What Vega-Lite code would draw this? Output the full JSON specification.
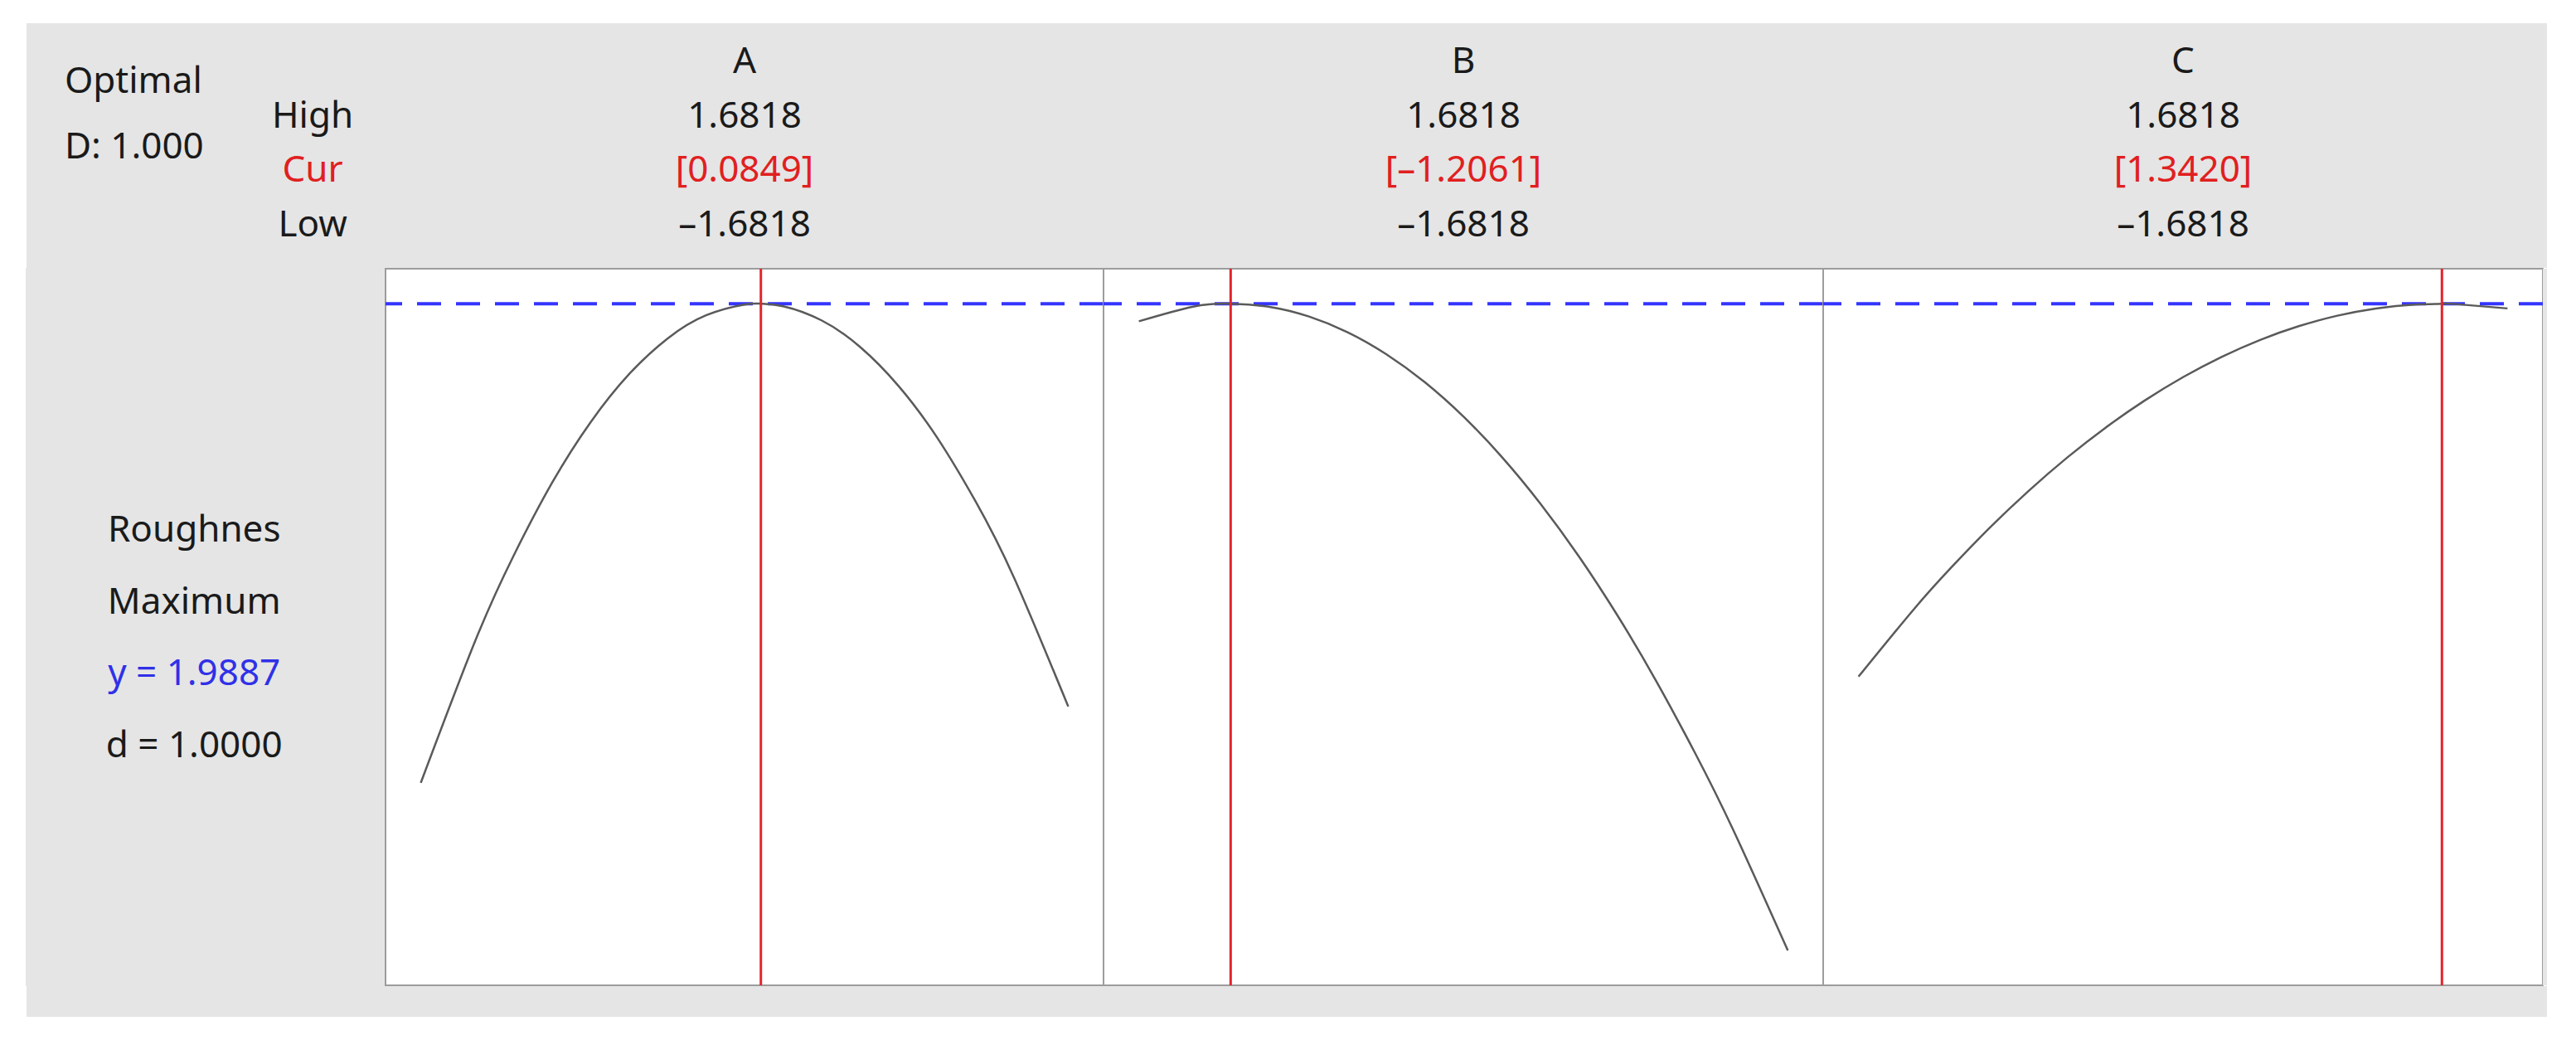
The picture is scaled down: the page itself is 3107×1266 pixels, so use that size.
{
  "$schema": "https://vega.github.io/schema/vega-lite/v6.json",
  "background": "white",
  "padding": {"left": 31, "top": 28, "right": 36, "bottom": 42},
  "autosize": {"type": "pad"},
  "spacing": 0,
  "config": {
    "view": {"stroke": null},
    "concat": {"spacing": 0},
    "text": {"font": "Noto Sans", "fontSize": 44, "baseline": "alphabetic"}
  },
  "datasets": {
    "curves": [
      {"panel": "A", "x": -1.6818, "y": 1.0126},
      {"panel": "A", "x": -1.4, "y": 1.3009},
      {"panel": "A", "x": -1.2, "y": 1.4750},
      {"panel": "A", "x": -1.0, "y": 1.6237},
      {"panel": "A", "x": -0.8, "y": 1.7471},
      {"panel": "A", "x": -0.6, "y": 1.8451},
      {"panel": "A", "x": -0.4, "y": 1.9178},
      {"panel": "A", "x": -0.2, "y": 1.9651},
      {"panel": "A", "x": 0.0, "y": 1.9870},
      {"panel": "A", "x": 0.0849, "y": 1.9887},
      {"panel": "A", "x": 0.2, "y": 1.9836},
      {"panel": "A", "x": 0.4, "y": 1.9548},
      {"panel": "A", "x": 0.6, "y": 1.9007},
      {"panel": "A", "x": 0.8, "y": 1.8212},
      {"panel": "A", "x": 1.0, "y": 1.7163},
      {"panel": "A", "x": 1.2, "y": 1.5861},
      {"panel": "A", "x": 1.4, "y": 1.4305},
      {"panel": "A", "x": 1.6818, "y": 1.1680},
      {"panel": "B", "x": -1.6818, "y": 1.9529},
      {"panel": "B", "x": -1.4, "y": 1.9828},
      {"panel": "B", "x": -1.2061, "y": 1.9887},
      {"panel": "B", "x": -1.0, "y": 1.9820},
      {"panel": "B", "x": -0.8, "y": 1.9626},
      {"panel": "B", "x": -0.6, "y": 1.9307},
      {"panel": "B", "x": -0.4, "y": 1.8860},
      {"panel": "B", "x": -0.2, "y": 1.8288},
      {"panel": "B", "x": 0.0, "y": 1.7589},
      {"panel": "B", "x": 0.2, "y": 1.6763},
      {"panel": "B", "x": 0.4, "y": 1.5811},
      {"panel": "B", "x": 0.6, "y": 1.4733},
      {"panel": "B", "x": 0.8, "y": 1.3528},
      {"panel": "B", "x": 1.0, "y": 1.2197},
      {"panel": "B", "x": 1.2, "y": 1.0740},
      {"panel": "B", "x": 1.4, "y": 0.9156},
      {"panel": "B", "x": 1.6818, "y": 0.6709},
      {"panel": "C", "x": -1.6818, "y": 1.2289},
      {"panel": "C", "x": -1.4, "y": 1.3639},
      {"panel": "C", "x": -1.2, "y": 1.4517},
      {"panel": "C", "x": -1.0, "y": 1.5329},
      {"panel": "C", "x": -0.8, "y": 1.6074},
      {"panel": "C", "x": -0.6, "y": 1.6753},
      {"panel": "C", "x": -0.4, "y": 1.7365},
      {"panel": "C", "x": -0.2, "y": 1.7911},
      {"panel": "C", "x": 0.0, "y": 1.8390},
      {"panel": "C", "x": 0.2, "y": 1.8803},
      {"panel": "C", "x": 0.4, "y": 1.9150},
      {"panel": "C", "x": 0.6, "y": 1.9429},
      {"panel": "C", "x": 0.8, "y": 1.9643},
      {"panel": "C", "x": 1.0, "y": 1.9790},
      {"panel": "C", "x": 1.2, "y": 1.9870},
      {"panel": "C", "x": 1.342, "y": 1.9887},
      {"panel": "C", "x": 1.4, "y": 1.9884},
      {"panel": "C", "x": 1.6818, "y": 1.9791}
    ],
    "cur": [
      {"panel": "A", "cur": 0.0849},
      {"panel": "B", "cur": -1.2061},
      {"panel": "C", "cur": 1.342}
    ],
    "optimum": [{"y": 1.9887}],
    "header": [
      {"panel": "A", "line": 1, "label": "A", "kind": "name"},
      {"panel": "A", "line": 2, "label": "1.6818", "kind": "limit"},
      {"panel": "A", "line": 3, "label": "[0.0849]", "kind": "cur"},
      {"panel": "A", "line": 4, "label": "–1.6818", "kind": "limit"},
      {"panel": "B", "line": 1, "label": "B", "kind": "name"},
      {"panel": "B", "line": 2, "label": "1.6818", "kind": "limit"},
      {"panel": "B", "line": 3, "label": "[–1.2061]", "kind": "cur"},
      {"panel": "B", "line": 4, "label": "–1.6818", "kind": "limit"},
      {"panel": "C", "line": 1, "label": "C", "kind": "name"},
      {"panel": "C", "line": 2, "label": "1.6818", "kind": "limit"},
      {"panel": "C", "line": 3, "label": "[1.3420]", "kind": "cur"},
      {"panel": "C", "line": 4, "label": "–1.6818", "kind": "limit"}
    ],
    "rowlabels": [
      {"line": 2, "label": "High", "kind": "limit"},
      {"line": 3, "label": "Cur", "kind": "cur"},
      {"line": 4, "label": "Low", "kind": "limit"}
    ],
    "optimal": [
      {"line": 1, "label": "Optimal", "kind": "name"},
      {"line": 2, "label": "D: 1.000", "kind": "name"}
    ],
    "response": [
      {"line": 1, "label": "Roughnes", "kind": "name"},
      {"line": 2, "label": "Maximum", "kind": "name"},
      {"line": 3, "label": "y = 1.9887", "kind": "resp"},
      {"line": 4, "label": "d = 1.0000", "kind": "name"}
    ]
  },
  "vconcat": [
    {
      "hconcat": [
        {
          "width": 433, "height": 295,
          "view": {"fill": "#e5e5e5", "stroke": null},
          "resolve": {"scale": {"y": "independent"}},
          "layer": [
            {
              "data": {"name": "optimal"},
              "mark": {"type": "text", "align": "left"},
              "encoding": {
                "x": {"datum": 0.106, "type": "quantitative", "scale": {"domain": [0, 1], "nice": false, "zero": false}, "axis": null},
                "y": {"field": "line", "type": "quantitative", "scale": {"domain": [-0.063, 3.671], "reverse": true, "nice": false, "zero": false}, "axis": null},
                "text": {"field": "label"},
                "color": {"field": "kind", "type": "nominal", "scale": {"domain": ["name", "limit", "cur", "resp"], "range": ["#1a1a1a", "#1a1a1a", "#e0201f", "#3030e8"]}, "legend": null}
              }
            },
            {
              "data": {"name": "rowlabels"},
              "mark": {"type": "text", "align": "center"},
              "encoding": {
                "x": {"datum": 0.797, "type": "quantitative", "scale": {"domain": [0, 1], "nice": false, "zero": false}, "axis": null},
                "y": {"field": "line", "type": "quantitative", "scale": {"domain": [0.087, 4.577], "reverse": true, "nice": false, "zero": false}, "axis": null},
                "text": {"field": "label"},
                "color": {"field": "kind", "type": "nominal", "scale": {"domain": ["name", "limit", "cur", "resp"], "range": ["#1a1a1a", "#1a1a1a", "#e0201f", "#3030e8"]}, "legend": null}
              }
            }
          ]
        },
        {
          "width": 866, "height": 295,
          "view": {"fill": "#e5e5e5", "stroke": null},
          "data": {"name": "header"},
          "transform": [{"filter": "datum.panel === 'A'"}],
          "mark": {"type": "text", "align": "center"},
          "encoding": {
            "x": {"datum": 0, "type": "quantitative", "scale": {"domain": [-1.865, 1.865], "nice": false, "zero": false}, "axis": null},
            "y": {"field": "line", "type": "quantitative", "scale": {"domain": [0.087, 4.577], "reverse": true, "nice": false, "zero": false}, "axis": null},
            "text": {"field": "label"},
            "color": {"field": "kind", "type": "nominal", "scale": {"domain": ["name", "limit", "cur", "resp"], "range": ["#1a1a1a", "#1a1a1a", "#e0201f", "#3030e8"]}, "legend": null}
          }
        },
        {
          "width": 868, "height": 295,
          "view": {"fill": "#e5e5e5", "stroke": null},
          "data": {"name": "header"},
          "transform": [{"filter": "datum.panel === 'B'"}],
          "mark": {"type": "text", "align": "center"},
          "encoding": {
            "x": {"datum": 0, "type": "quantitative", "scale": {"domain": [-1.865, 1.865], "nice": false, "zero": false}, "axis": null},
            "y": {"field": "line", "type": "quantitative", "scale": {"domain": [0.087, 4.577], "reverse": true, "nice": false, "zero": false}, "axis": null},
            "text": {"field": "label"},
            "color": {"field": "kind", "type": "nominal", "scale": {"domain": ["name", "limit", "cur", "resp"], "range": ["#1a1a1a", "#1a1a1a", "#e0201f", "#3030e8"]}, "legend": null}
          }
        },
        {
          "width": 868, "height": 295,
          "view": {"fill": "#e5e5e5", "stroke": null},
          "data": {"name": "header"},
          "transform": [{"filter": "datum.panel === 'C'"}],
          "mark": {"type": "text", "align": "center"},
          "encoding": {
            "x": {"datum": 0, "type": "quantitative", "scale": {"domain": [-1.865, 1.865], "nice": false, "zero": false}, "axis": null},
            "y": {"field": "line", "type": "quantitative", "scale": {"domain": [0.087, 4.577], "reverse": true, "nice": false, "zero": false}, "axis": null},
            "text": {"field": "label"},
            "color": {"field": "kind", "type": "nominal", "scale": {"domain": ["name", "limit", "cur", "resp"], "range": ["#1a1a1a", "#1a1a1a", "#e0201f", "#3030e8"]}, "legend": null}
          }
        },
        {
          "width": 5, "height": 295,
          "view": {"fill": "#e5e5e5", "stroke": null},
          "data": {"values": [{}]},
          "mark": {"type": "text", "fontSize": 0},
          "encoding": {"text": {"value": ""}}
        }
      ],
      "spacing": 0,
      "bounds": "flush"
    },
    {
      "hconcat": [
        {
          "width": 433, "height": 864,
          "view": {"fill": "#e5e5e5", "stroke": "#e5e5e5", "strokeWidth": 2},
          "data": {"name": "response"},
          "mark": {"type": "text", "align": "center"},
          "encoding": {
            "x": {"datum": 0.467, "type": "quantitative", "scale": {"domain": [0, 1], "nice": false, "zero": false}, "axis": null},
            "y": {"field": "line", "type": "quantitative", "scale": {"domain": [-2.795, 7.17], "reverse": true, "nice": false, "zero": false}, "axis": null},
            "text": {"field": "label"},
            "color": {"field": "kind", "type": "nominal", "scale": {"domain": ["name", "limit", "cur", "resp"], "range": ["#1a1a1a", "#1a1a1a", "#e0201f", "#3030e8"]}, "legend": null}
          }
        },
        {
          "width": 866, "height": 864,
          "view": {"fill": "white", "stroke": "#9c9c9c", "strokeWidth": 2},
          "layer": [
            {
              "data": {"name": "optimum"},
              "mark": {"type": "rule", "color": "#3535ff", "strokeWidth": 4, "strokeDash": [29, 18], "clip": true},
              "encoding": {"y": {"field": "y", "type": "quantitative", "scale": {"domain": [0.6, 2.06], "nice": false, "zero": false}, "axis": null}}
            },
            {
              "data": {"name": "curves"},
              "transform": [{"filter": "datum.panel === 'A'"}],
              "mark": {"type": "line", "color": "#5a5a5a", "strokeWidth": 2.5, "interpolate": "natural", "clip": true},
              "encoding": {
                "x": {"field": "x", "type": "quantitative", "scale": {"domain": [-1.865, 1.865], "nice": false, "zero": false}, "axis": null},
                "y": {"field": "y", "type": "quantitative", "axis": null}
              }
            },
            {
              "data": {"name": "cur"},
              "transform": [{"filter": "datum.panel === 'A'"}],
              "mark": {"type": "rule", "color": "#e3242b", "strokeWidth": 3, "clip": true},
              "encoding": {"x": {"field": "cur", "type": "quantitative", "axis": null}}
            }
          ]
        },
        {
          "width": 868, "height": 864,
          "view": {"fill": "white", "stroke": "#9c9c9c", "strokeWidth": 2},
          "layer": [
            {
              "data": {"name": "optimum"},
              "mark": {"type": "rule", "color": "#3535ff", "strokeWidth": 4, "strokeDash": [29, 18], "clip": true},
              "encoding": {"y": {"field": "y", "type": "quantitative", "scale": {"domain": [0.6, 2.06], "nice": false, "zero": false}, "axis": null}}
            },
            {
              "data": {"name": "curves"},
              "transform": [{"filter": "datum.panel === 'B'"}],
              "mark": {"type": "line", "color": "#5a5a5a", "strokeWidth": 2.5, "interpolate": "natural", "clip": true},
              "encoding": {
                "x": {"field": "x", "type": "quantitative", "scale": {"domain": [-1.865, 1.865], "nice": false, "zero": false}, "axis": null},
                "y": {"field": "y", "type": "quantitative", "axis": null}
              }
            },
            {
              "data": {"name": "cur"},
              "transform": [{"filter": "datum.panel === 'B'"}],
              "mark": {"type": "rule", "color": "#e3242b", "strokeWidth": 3, "clip": true},
              "encoding": {"x": {"field": "cur", "type": "quantitative", "axis": null}}
            }
          ]
        },
        {
          "width": 868, "height": 864,
          "view": {"fill": "white", "stroke": "#9c9c9c", "strokeWidth": 2},
          "layer": [
            {
              "data": {"name": "optimum"},
              "mark": {"type": "rule", "color": "#3535ff", "strokeWidth": 4, "strokeDash": [29, 18], "clip": true},
              "encoding": {"y": {"field": "y", "type": "quantitative", "scale": {"domain": [0.6, 2.06], "nice": false, "zero": false}, "axis": null}}
            },
            {
              "data": {"name": "curves"},
              "transform": [{"filter": "datum.panel === 'C'"}],
              "mark": {"type": "line", "color": "#5a5a5a", "strokeWidth": 2.5, "interpolate": "natural", "clip": true},
              "encoding": {
                "x": {"field": "x", "type": "quantitative", "scale": {"domain": [-1.865, 1.865], "nice": false, "zero": false}, "axis": null},
                "y": {"field": "y", "type": "quantitative", "axis": null}
              }
            },
            {
              "data": {"name": "cur"},
              "transform": [{"filter": "datum.panel === 'C'"}],
              "mark": {"type": "rule", "color": "#e3242b", "strokeWidth": 3, "clip": true},
              "encoding": {"x": {"field": "cur", "type": "quantitative", "axis": null}}
            }
          ]
        },
        {
          "width": 5, "height": 864,
          "view": {"fill": "#e5e5e5", "stroke": null},
          "data": {"values": [{}]},
          "mark": {"type": "text", "fontSize": 0},
          "encoding": {"text": {"value": ""}}
        }
      ],
      "spacing": 0,
      "bounds": "flush"
    },
    {
      "width": 3040, "height": 37,
      "view": {"fill": "#e5e5e5", "stroke": null},
      "data": {"values": [{}]},
      "mark": {"type": "text", "fontSize": 0},
      "encoding": {"text": {"value": ""}}
    }
  ]
}
